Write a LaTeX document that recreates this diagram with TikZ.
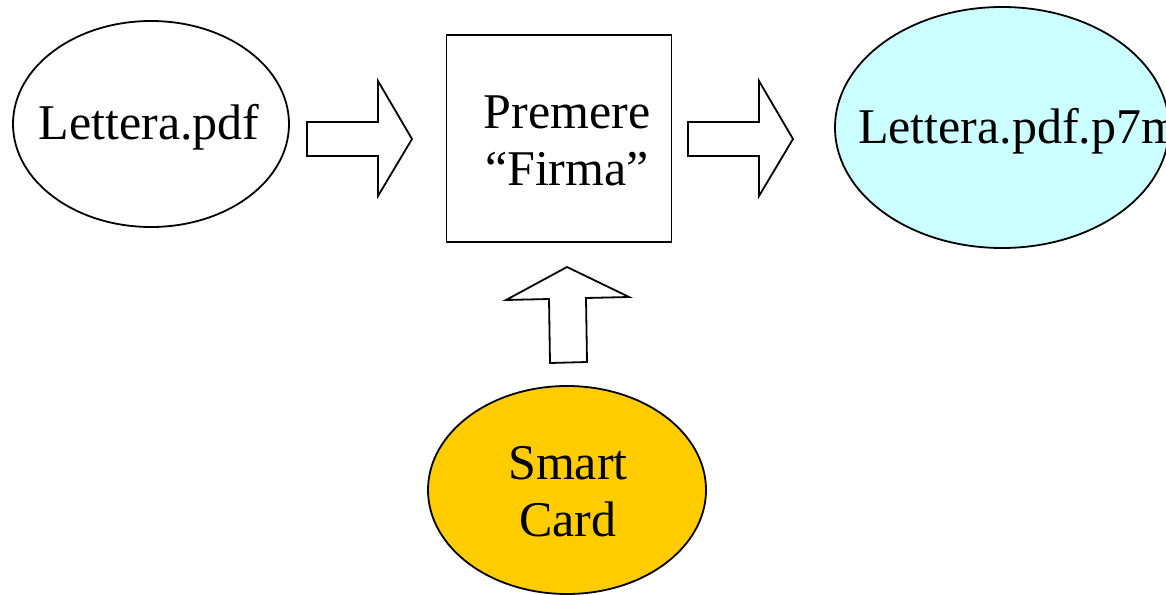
\documentclass[tikz,border=0pt]{standalone}
\usepackage{fontspec}
\setmainfont{Liberation Serif}
\usetikzlibrary{shapes.geometric}
\definecolor{outcyan}{HTML}{CCFFFF}
\definecolor{cardgold}{HTML}{FFCC00}
\begin{document}
\begin{tikzpicture}[x=1pt,y=-1pt,
  outline/.style={draw=black,line width=1.8pt},
  oval/.style={outline,ellipse,inner sep=0pt},
  label/.style={font=\fontsize{50}{57}\selectfont,align=center,inner sep=0pt},
  blockarrow/.style={outline,fill=white,line join=miter}]
\clip (0,0) rectangle (1166,594);
\fill[white] (0,0) rectangle (1166,594);

% input document
\node[oval,minimum width=276,minimum height=206] (doc) at (151,124) {};
\node[label] (doctext) at (149,127) {Lettera.pdf};

% signing step
\node[outline,rectangle,minimum width=225,minimum height=207,inner sep=0pt] (sign) at (559,138.5) {};
\node[label] (signtext) at (567,141) {Premere\\“Firma”};

% signed output
\node[oval,fill=outcyan,minimum width=334,minimum height=241] (out) at (1002,127.5) {};
\node[label,anchor=west] (outtext) at (858,131) {Lettera.pdf.p7m};

% smart card
\node[oval,fill=cardgold,minimum width=278,minimum height=208] (card) at (567,490) {};
\node[label] (cardtext) at (568,492) {Smart\\Card};

% block arrows
\draw[blockarrow] (307,122) -- (378,122) -- (378,81) -- (412,139) -- (378,196)
  -- (378,156) -- (307,156) -- cycle;
\draw[blockarrow] (688,122) -- (759,122) -- (759,81) -- (793,139) -- (759,196)
  -- (759,156) -- (688,156) -- cycle;
\draw[blockarrow] (550,363) -- (549,299) -- (506,300) -- (567,267) -- (629,297)
  -- (586,298) -- (587,362) -- cycle;
\end{tikzpicture}
\end{document}
